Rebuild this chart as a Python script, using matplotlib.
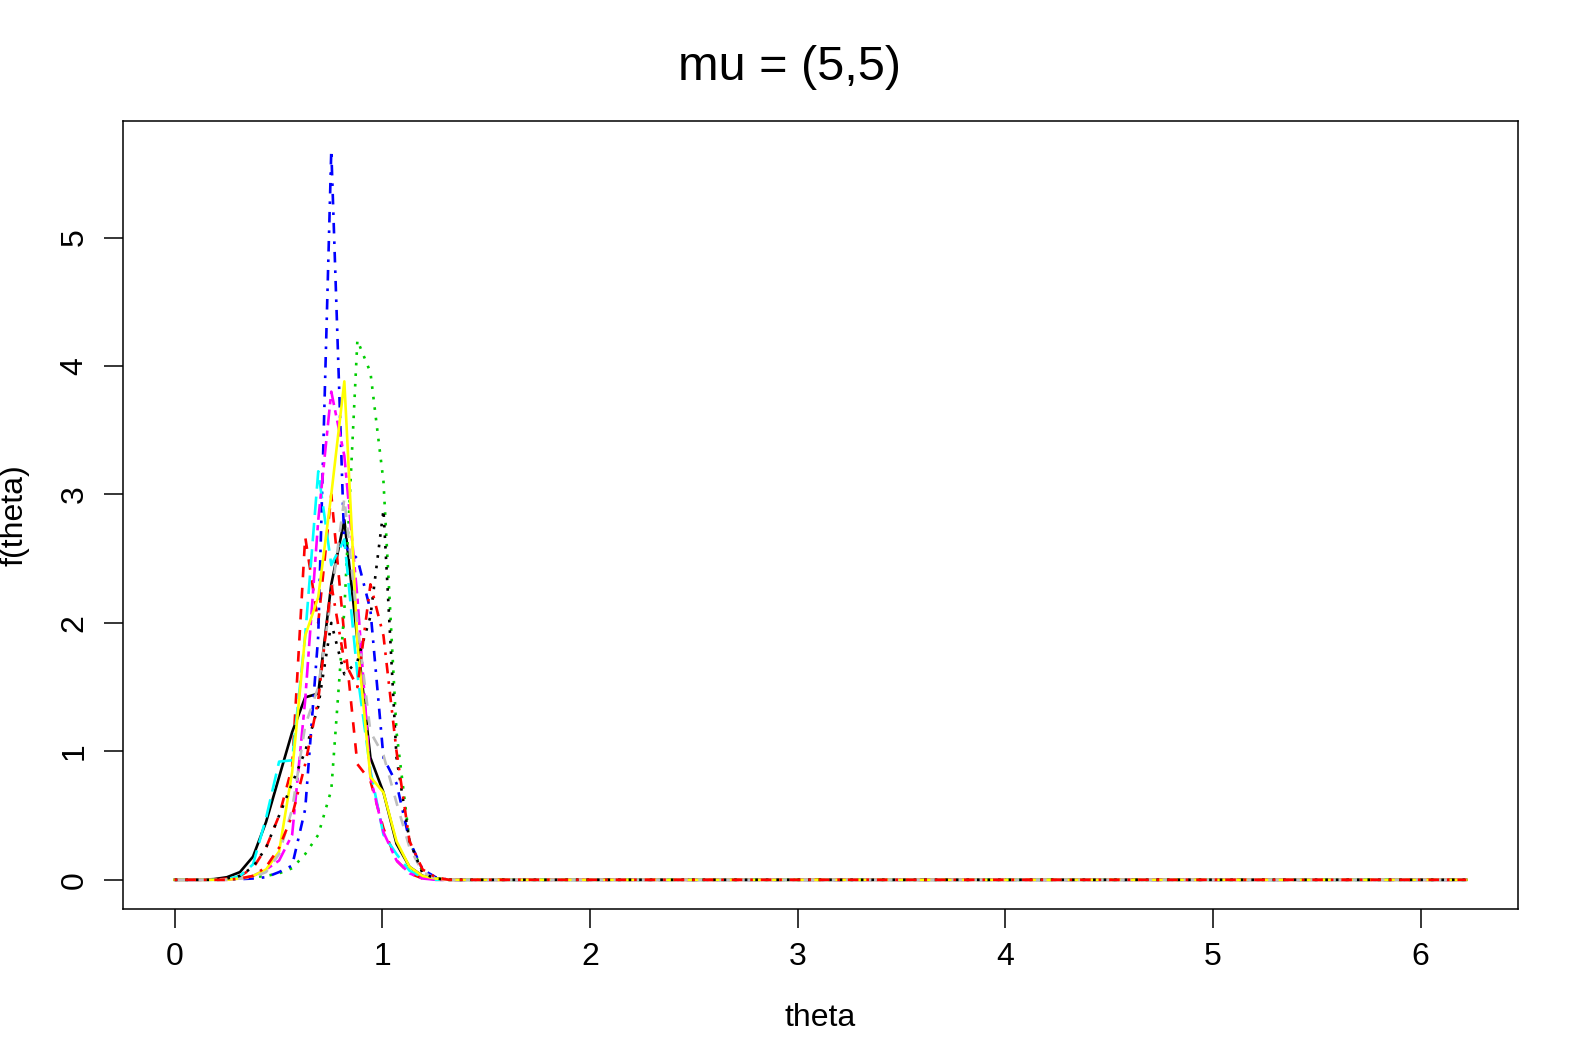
#!/usr/bin/env python3
"""Densities f(theta) of ten chains, mu = (5,5) - R matplot look."""

import numpy as np
import matplotlib
matplotlib.use("Agg")
import matplotlib.pyplot as plt

plt.rcParams["font.family"] = ["Liberation Sans", "DejaVu Sans"]

N_GRID = 100
theta = np.arange(N_GRID) * 2 * np.pi / N_GRID

# values for the first 22 grid points; the rest are zero
black_solid = [0, 0, 0, 0.005, 0.02, 0.06, 0.18, 0.45, 0.8, 1.15, 1.42, 1.45,
               2.3, 2.8, 1.87, 0.95, 0.68, 0.28, 0.1, 0.03, 0.01, 0]
red_dashed = [0, 0, 0, 0, 0.01, 0.03, 0.09, 0.25, 0.5, 0.88, 2.67, 2.0,
              3.0, 1.9, 0.9, 0.77, 0.4, 0.15, 0.05, 0.01, 0, 0]
green_dotted = [0, 0, 0, 0, 0, 0.01, 0.02, 0.03, 0.05, 0.09, 0.2, 0.35,
                0.7, 2.1, 4.2, 3.95, 3.1, 1.15, 0.3, 0.06, 0.01, 0]
blue_dotdash = [0, 0, 0, 0, 0, 0.005, 0.01, 0.02, 0.06, 0.11, 0.55, 1.9,
                5.68, 2.6, 2.5, 2.1, 0.95, 0.75, 0.3, 0.08, 0.02, 0]
cyan_longdash = [0, 0, 0, 0, 0.005, 0.03, 0.12, 0.48, 0.92, 0.93, 1.9, 3.18,
                 2.45, 2.65, 1.6, 0.85, 0.35, 0.2, 0.07, 0.02, 0, 0]
magenta_twodash = [0, 0, 0, 0, 0, 0.01, 0.03, 0.08, 0.15, 0.35, 1.4, 2.8,
                   3.8, 3.3, 2.2, 0.8, 0.37, 0.15, 0.05, 0.01, 0, 0]
yellow_solid = [0, 0, 0, 0, 0, 0.01, 0.03, 0.08, 0.22, 0.84, 1.9, 2.2,
                3.0, 3.88, 1.85, 0.8, 0.68, 0.3, 0.1, 0.03, 0.01, 0]
gray_dashed = [0, 0, 0, 0, 0, 0.01, 0.02, 0.06, 0.2, 0.55, 1.2, 1.5,
               2.2, 2.97, 2.0, 1.15, 0.97, 0.6, 0.25, 0.06, 0.01, 0]
black_dotted = [0, 0, 0, 0, 0.01, 0.03, 0.1, 0.25, 0.5, 0.75, 1.0, 1.35,
                2.0, 1.6, 1.7, 2.05, 2.88, 0.95, 0.3, 0.05, 0.01, 0]
red_dotdash = [0, 0, 0, 0, 0, 0.01, 0.03, 0.1, 0.25, 0.5, 0.9, 1.4,
               2.3, 1.7, 1.5, 2.3, 1.9, 1.0, 0.3, 0.08, 0.02, 0]

series = [black_solid, red_dashed, green_dotted, blue_dotdash, cyan_longdash,
          magenta_twodash, yellow_solid, gray_dashed, black_dotted, red_dotdash]
colors = ["black", "#FF0000", "#00CD00", "#0000FF", "#00FFFF",
          "#FF00FF", "#FFFF00", "#BEBEBE", "black", "#FF0000"]
# R lty 1..6: solid, "44", "13", "1343", "73", "2262"
LW = 1.9
s = 1.0
ltys = ["-", (0, (4 * s, 4 * s)), (0, (1 * s, 3 * s)),
        (0, (1 * s, 3 * s, 4 * s, 3 * s)), (0, (7 * s, 3 * s)),
        (0, (2 * s, 2 * s, 6 * s, 2 * s))]

fig = plt.figure(figsize=(15.82, 10.63), dpi=100)
ax = fig.add_axes([0.0778, 0.1449, 0.9595 - 0.0778, 0.8862 - 0.1449])

for i, vals in enumerate(series):
    y = np.zeros(N_GRID)
    y[:len(vals)] = vals
    ax.plot(theta, y, color=colors[i], linestyle=ltys[i % 6], linewidth=LW)

ymax = max(max(v) for v in series)
xmax = theta[-1]
ax.set_xlim(-0.04 * xmax, 1.04 * xmax)
ax.set_ylim(-0.04 * ymax, 1.04 * ymax)

ax.set_xticks(range(0, 7))
ax.set_yticks(range(0, 6))
ax.tick_params(axis="both", labelsize=23, length=14, width=1.1, pad=10)
for lab in ax.get_yticklabels():
    lab.set_rotation(90)
    lab.set_va("center")
for sp in ax.spines.values():
    sp.set_linewidth(1.1)

ax.set_xlabel("theta", fontsize=23, labelpad=22)
ax.set_ylabel("f(theta)", fontsize=23, labelpad=22)
fig.text(789 / 1582, 1 - 68 / 1063, "mu = (5,5)", fontsize=35,
         ha="center", va="center")

fig.savefig("out.png", dpi=100)
